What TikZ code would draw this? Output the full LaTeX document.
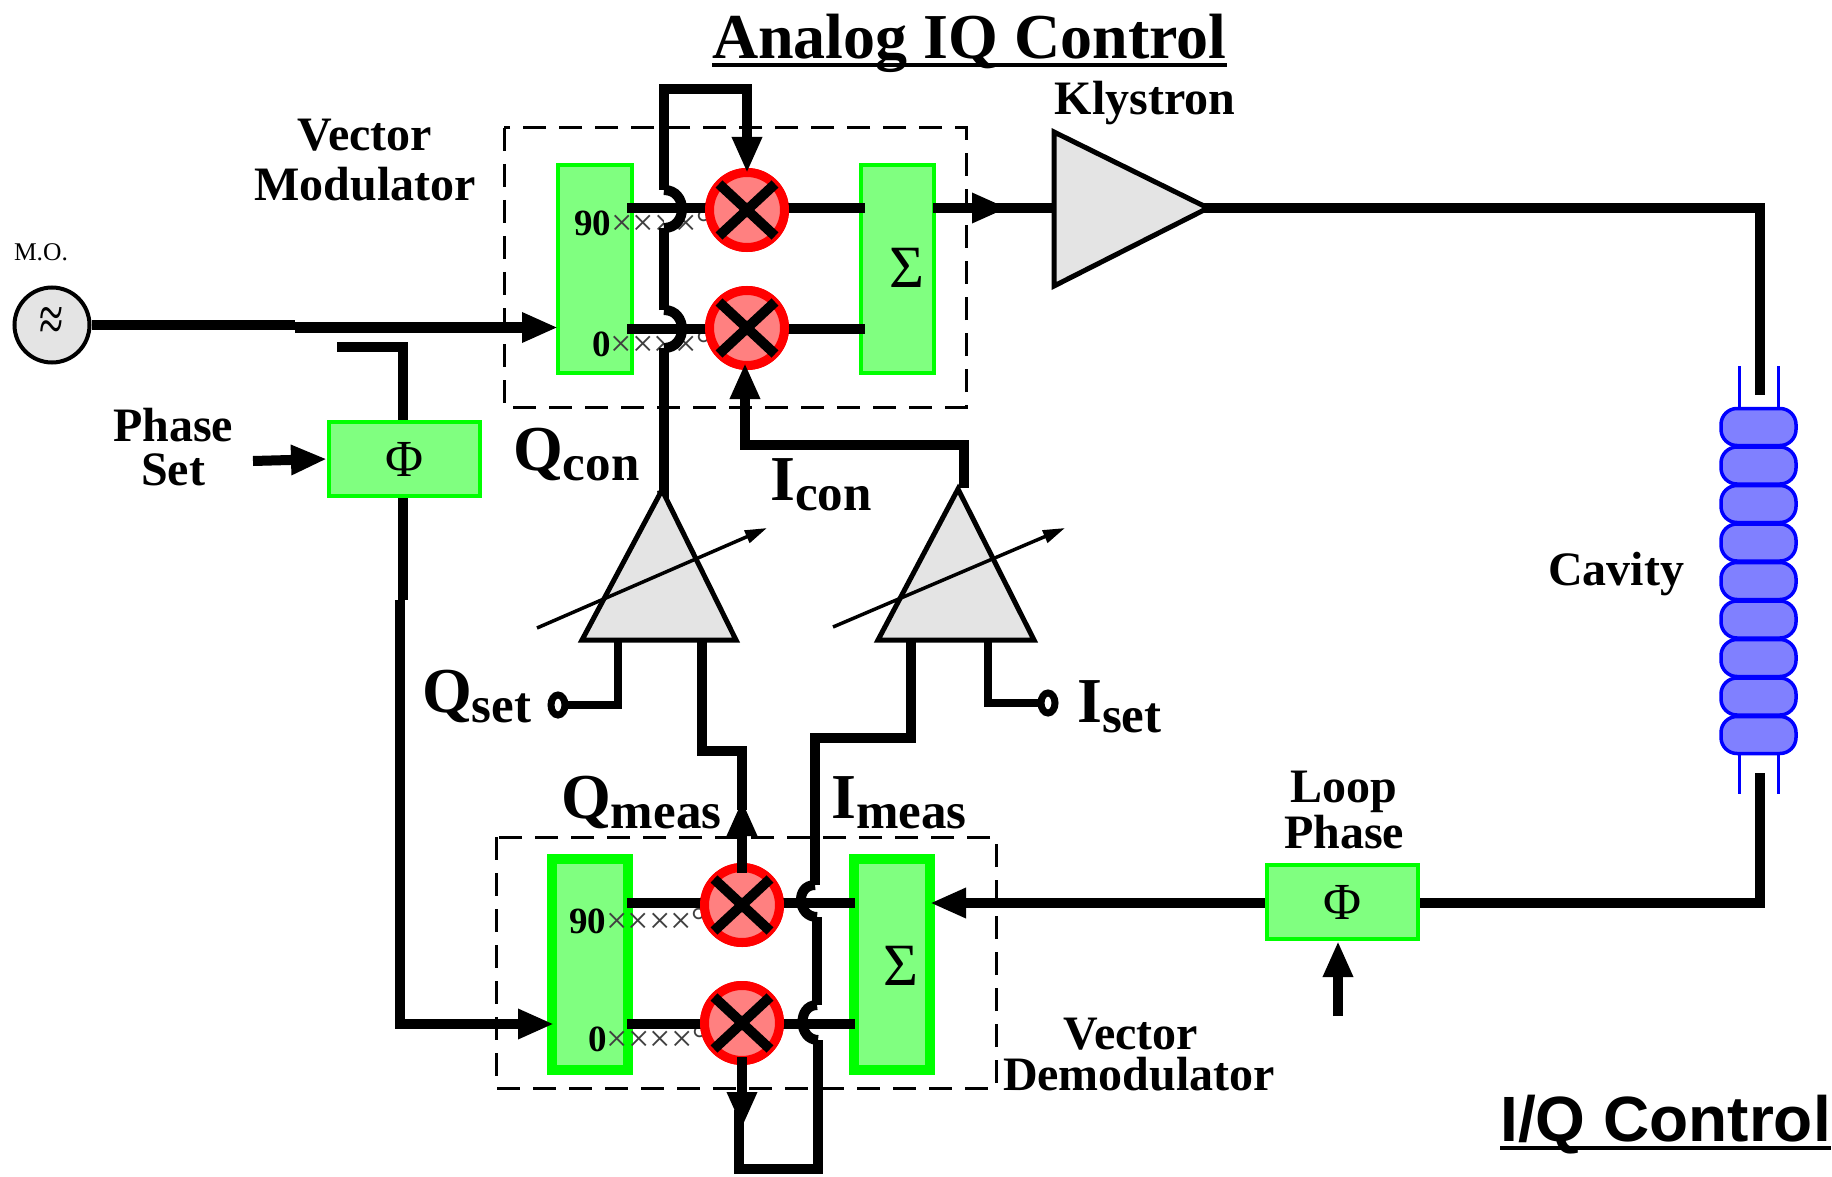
\documentclass[tikz,border=0pt]{standalone}
\usepackage{fontspec}
\setmainfont{Liberation Serif}
\setsansfont{Liberation Sans}
\usetikzlibrary{arrows.meta,calc,shapes.geometric}
\definecolor{gfill}{HTML}{80FF80}
\definecolor{gline}{HTML}{00FF00}
\definecolor{rfill}{HTML}{FF8080}
\definecolor{bfill}{HTML}{8080FF}
\definecolor{bline}{HTML}{0000FF}
\definecolor{grayf}{HTML}{E4E4E4}
\newcommand{\fs}[1]{\fontsize{#1}{#1}\selectfont}
\newcommand{\subl}[2]{#1\raisebox{-10pt}{\fs{51}#2}}
\newcommand{\deglbl}[1]{\fs{37}\textbf{#1}\textcolor{black!75}{\fs{38}××××°}}
\newcommand{\hopcurve}[3]{\fill[white] (#1) .. controls +(#3,0) and ($(#2)+(#3,0)$) .. (#2);
  \draw[wire] (#1) .. controls +(#3,0) and ($(#2)+(#3,0)$) .. (#2);}
\tikzset{
  wire/.style={line width=10pt,draw=black,line join=miter},
  tipped/.style={wire,-{Triangle[length=36pt,width=28pt]}},
  gbox/.style={rectangle,draw=gline,fill=gfill,line width=4pt,inner sep=0pt},
  gboxb/.style={gbox,line width=10pt},
  mixer/.style={circle,draw=red,fill=rfill,line width=9pt,minimum size=75pt,inner sep=0pt},
  xmark/.style={line width=10pt,draw=black},
  dbox/.style={draw=black,line width=3pt,dash pattern=on 23pt off 13pt,fill=none},
  amp/.style={draw=black,fill=grayf,line width=5pt,line join=miter},
  cell/.style={rectangle,draw=bline,fill=bfill,line width=3.5pt,rounded corners=16pt,minimum width=75pt,minimum height=37pt,inner sep=0pt},
  tube/.style={draw=bline,line width=3pt},
  adj/.style={draw=black,line width=3.5pt,-{Triangle[length=22pt,width=13pt]}},
  lab/.style={inner sep=0pt,font=\fs{48}\bfseries,anchor=base,align=center},
  big/.style={inner sep=0pt,font=\fs{64}\bfseries,anchor=base west},
  term/.style={ellipse,draw=black,fill=white,line width=7pt,minimum width=14pt,minimum height=20pt,inner sep=0pt},
  setwire/.style={draw=black,line width=8pt,line join=miter},
  deglab/.style={inner sep=0pt,anchor=base west},
  sym/.style={inner sep=0pt,font=\fs{60}},
  ulrule/.style={draw=black,line width=4pt},
}
\begin{document}
\begin{tikzpicture}[x=1pt,y=-1pt]
\useasboundingbox (0,0) rectangle (1832,1177);
% dashed enclosures
\coordinate (d1a) at (504,128); \coordinate (d1b) at (966,407);
\coordinate (d2a) at (496,837); \coordinate (d2b) at (996,1088);
\draw[dbox] (d1a) rectangle (d1b);
\draw[dbox] (d2a) rectangle (d2b);
% blocks
\node[gbox,minimum width=74pt,minimum height=208pt] (tl) at (595,269) {};
\node[gbox,minimum width=73pt,minimum height=208pt] (tr) at (897.5,269) {};
\node[gboxb,minimum width=76pt,minimum height=211pt] (bl) at (590,964.5) {};
\node[gboxb,minimum width=76pt,minimum height=211pt] (br) at (892,964.5) {};
\node[gbox,minimum width=151pt,minimum height=74pt,font=\fs{52}] (ph1) at (404.5,459) {Φ};
\node[gbox,minimum width=151pt,minimum height=74pt,font=\fs{52}] (ph2) at (1342.5,902) {Φ};
\node[sym] (s1) at (907,268) {Σ};
\node[sym] (s2) at (901,966) {Σ};
\node[deglab] (t90) at (574,236) {\deglbl{90}};
\node[deglab] (t0) at (592,356) {\deglbl{0}};
\node[deglab] (b90) at (569,933) {\deglbl{90}};
\node[deglab] (b0) at (588,1051) {\deglbl{0}};
% oscillator
\node[circle,draw=black,fill=grayf,line width=4pt,minimum size=75pt,inner sep=0pt,font=\fs{44}] (osc) at (52,325) {\scalebox{1}[1.5]{≈}};
% mixers
\node[mixer] (m1) at (747,210) {};
\node[mixer] (m2) at (747,328) {};
\node[mixer] (m3) at (742,905) {};
\node[mixer] (m4) at (742,1023) {};
% coordinates of amplifiers
\coordinate (ka) at (1054,132); \coordinate (kb) at (1054,286); \coordinate (kt) at (1208,208);
\coordinate (qt) at (662,490); \coordinate (qa) at (582,640); \coordinate (qb) at (736,640);
\coordinate (it) at (958,489); \coordinate (ia) at (878,640); \coordinate (ib) at (1034,640);
% routing points
\coordinate (w1) at (664,89); \coordinate (w2) at (664,190); \coordinate (w3) at (664,228);
\coordinate (w4) at (664,310); \coordinate (w5) at (664,348); \coordinate (w6) at (664,500);
\coordinate (v1) at (964,488); \coordinate (v2) at (964,445); \coordinate (v3) at (745,445); \coordinate (v4) at (745,363);
\coordinate (x1) at (702,640); \coordinate (x2) at (702,751); \coordinate (x3) at (742,751); \coordinate (x4) at (742,810);
\coordinate (y1) at (911,640); \coordinate (y2) at (911,738); \coordinate (y3) at (815,738);
\coordinate (y4) at (815,885); \coordinate (y5) at (817,917); \coordinate (y6) at (817,1005);
\coordinate (y7) at (818,1040); \coordinate (y8) at (818,1169); \coordinate (y9) at (739,1169); \coordinate (y10) at (739,1110);
\coordinate (c1) at (1760,208); \coordinate (c2) at (1760,395); \coordinate (c3) at (1760,773); \coordinate (c4) at (1760,903);
\coordinate (p1) at (337,347); \coordinate (p2) at (403,347); \coordinate (p3) at (400,1024); \coordinate (p4) at (403,600);
\coordinate (ps) at (253,461); \coordinate (lp) at (1338,1016);
\coordinate (r1) at (0,208); \coordinate (r2) at (0,329); \coordinate (r3) at (0,903); \coordinate (r4) at (0,1024);
\coordinate (o1) at (295,325); \coordinate (o2) at (295,327.5); \coordinate (o3) at (558,327.5);
\coordinate (a1) at (1008,208); \coordinate (a2) at (985,208);
\coordinate (e1) at (554,1024); \coordinate (e2) at (930,903);
\coordinate (t1) at (747,173);
% vertical wires with hops
\draw[wire] (w6) -- (w5); \hopcurve{w5}{w4}{24}
\draw[wire] (w4) -- (w3); \hopcurve{w3}{w2}{24}
\draw[wire] (y1) -- (y2) -- (y3) -- (y4); \hopcurve{y4}{y5}{-20}
\draw[wire] (y5) -- (y6); \hopcurve{y6}{y7}{-20}
\draw[wire] (y7) -- (y8) -- (y9) -- (y10);
% horizontal wires
\draw[wire] ([xshift=-7pt]tl.east |- r1) -- (m1.center |- r1) -- ([xshift=6pt]tr.west |- r1);
\draw[wire] ([xshift=-7pt]tl.east |- r2) -- (m2.center |- r2) -- ([xshift=6pt]tr.west |- r2);
\draw[wire] ([xshift=-6pt]bl.east |- r3) -- (m3.center |- r3) -- ([xshift=6pt]br.west |- r3);
\draw[wire] ([xshift=-6pt]bl.east |- r4) -- (m4.center |- r4) -- ([xshift=6pt]br.west |- r4);
% redraw mixers over wires
\node[mixer] at (m1) {};
\node[mixer] at (m2) {};
\node[mixer] at (m3) {};
\node[mixer] at (m4) {};
\foreach \m in {m1,m2,m3,m4}{
  \draw[xmark] ([shift={(-28pt,-26pt)}]\m.center) -- ([shift={(28pt,26pt)}]\m.center);
  \draw[xmark] ([shift={(-28pt,26pt)}]\m.center) -- ([shift={(28pt,-26pt)}]\m.center);
}
% arrows into mixers
\draw[tipped] (w2) -- (w1) -- (w1 -| m1) -- (t1);
\draw[tipped] (v1) -- (v2) -- (v3) -- (v4);
\draw[wire] (qt) -- (w6);
\draw[wire] (x1) -- (x2) -- (x3) -- (x4);
\draw[tipped] (m3.south |- 0,873) -- (m3.south |- 0,800);
\draw[tipped] (m4.south |- 0,1057) -- (m4.south |- 0,1128);
% main lines
\draw[wire] (osc.east) -- (o1);
\draw[tipped,line width=11pt] (o2) -- (o3);
\draw[wire] (p1) -- (p2) -- (ph1.north -| p2);
\draw[wire] (ph1.south -| p2) -- (p4);
\draw[wire] (p4 -| p3) -- (p3);
\draw[tipped] ($(p3)+(-5,0)$) -- (e1);
\draw[tipped] (ps) -- (ph1.west);
\draw[tipped] ([xshift=-3pt]tr.east |- r1) -- (a1);
\draw[wire] (a2) -- (kt);
\draw[wire] (kt) -- (c1) -- (c2);
\draw[wire] (c3) -- (c4) -- (ph2.east |- c4);
\draw[tipped] (ph2.west |- c4) -- (e2);
\draw[tipped] (lp) -- (lp |- ph2.south);
% amplifiers
\draw[amp] (ka) -- (kt) -- (kb) -- cycle;
\draw[amp] (qt) -- (qb) -- (qa) -- cycle;
\draw[amp] (it) -- (ib) -- (ia) -- cycle;
\coordinate (q1) at (537,628); \coordinate (q2) at (767,528);
\coordinate (i1) at (833,627); \coordinate (i2) at (1065,528);
\draw[adj] (q1) -- (q2);
\draw[adj] (i1) -- (i2);
% set terminals
\coordinate (qs1) at (618,705); \coordinate (qs2) at (618,640);
\coordinate (is1) at (988,703); \coordinate (is2) at (988,640);
\draw[setwire] (558,705) -- (qs1) -- (qs2);
\draw[setwire] (1048,703) -- (is1) -- (is2);
\node[term] (qs) at (558,705) {};
\node[term] (is) at (1048,703) {};
% cavity
\foreach \i/\y in {1/427,2/465.5,3/504,4/542.5,5/581,6/619.5,7/658,8/696.5,9/735}{
  \node[cell] (cav\i) at (1758.5,\y) {};
}
\draw[tube] ([xshift=-19pt]cav1.north) -- ++(0,-41);
\draw[tube] ([xshift=20pt]cav1.north) -- ++(0,-41);
\draw[tube] ([xshift=-19pt]cav9.south) -- ++(0,39);
\draw[tube] ([xshift=20pt]cav9.south) -- ++(0,39);
% labels
\node[inner sep=0pt,anchor=base west,font=\fs{64}\bfseries] (title) at (712,59) {Analog IQ Control};
\draw[ulrule] ([yshift=-6pt]title.base west) -- ([yshift=-6pt]title.base east);
\node[inner sep=0pt,anchor=base west,font=\fs{64}\bfseries\sffamily] (iq) at (1500,1141) {I/Q Control};
\draw[ulrule] ([yshift=-7pt]iq.base west) -- ([yshift=-7pt]iq.base east);
\node[lab] (kly) at (1145,115) {Klystron};
\node[lab] (vm1) at (365,151) {Vector};
\node[lab] (vm2) at (365,201) {Modulator};
\node[inner sep=0pt,anchor=base,font=\fs{25.5}] (mo) at (41,261) {M.O.};
\node[lab] (ph) at (173,441) {Phase};
\node[lab] (st) at (173,485) {Set};
\node[big] (qcon) at (513,470) {\subl{Q}{con}};
\node[big] (icon) at (770,500) {\subl{I}{con}};
\node[big] (qset) at (422,712) {\subl{Q}{set}};
\node[big] (iset) at (1077,722) {\subl{I}{set}};
\node[big] (qmeas) at (561,818) {\subl{Q}{meas}};
\node[big] (imeas) at (831,818) {\subl{I}{meas}};
\node[lab] (cav) at (1616,585) {Cavity};
\node[lab] (lp1) at (1344,802) {Loop};
\node[lab] (lp2) at (1344,848) {Phase};
\node[lab] (vd1) at (1131,1049) {Vector};
\node[lab] (vd2) at (1139,1090) {Demodulator};
\end{tikzpicture}
\end{document}
